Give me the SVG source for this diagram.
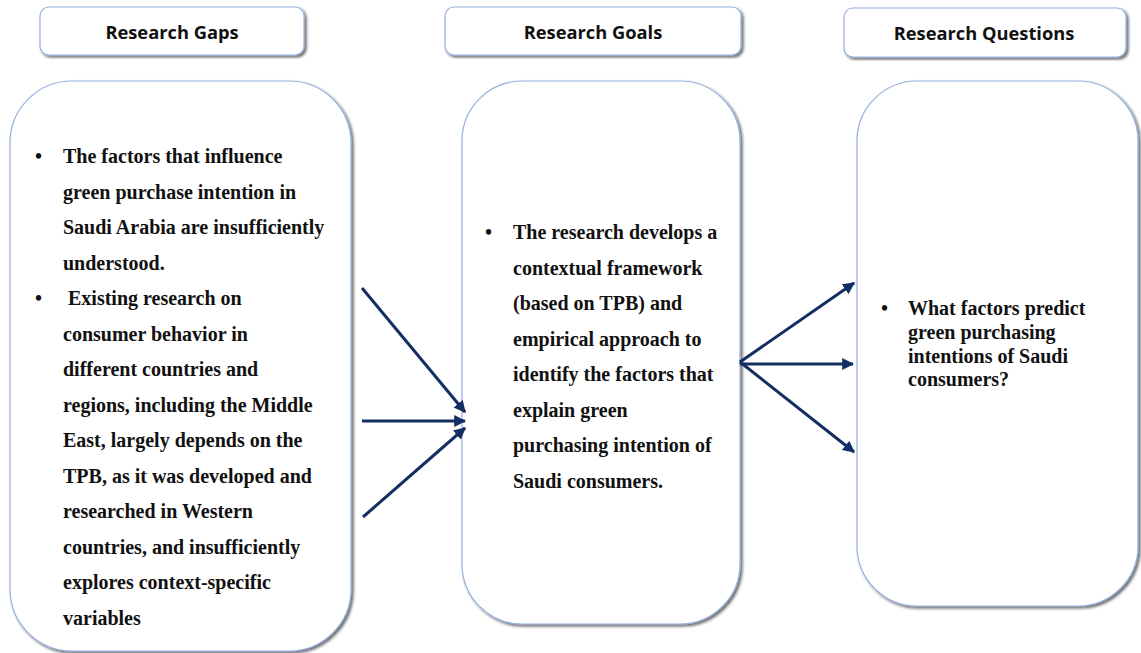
<svg xmlns="http://www.w3.org/2000/svg" width="1141" height="653" viewBox="0 0 1141 653">
  <defs>
    <filter id="shadow" x="-5%" y="-5%" width="112%" height="112%">
      <feGaussianBlur in="SourceAlpha" stdDeviation="1.5"/>
      <feOffset dx="2" dy="2" result="b"/>
      <feComponentTransfer><feFuncA type="linear" slope="0.6"/></feComponentTransfer>
      <feMerge><feMergeNode/><feMergeNode in="SourceGraphic"/></feMerge>
    </filter>
    <marker id="arrow" viewBox="0 0 10 10" refX="9" refY="5" markerWidth="4" markerHeight="4" orient="auto" markerUnits="strokeWidth">
      <path d="M0,0 L10,5 L0,10 Z" fill="#132e63"/>
    </marker>
  </defs>
  <style>
    .box { fill: #ffffff; stroke: #95b0de; stroke-width: 1.2; filter: url(#shadow); }
    .head { font-family: "Open Sans", "Liberation Sans", sans-serif; font-weight: bold; font-size: 18.3px; fill: #111111; text-anchor: middle; }
    .body { font-family: "Liberation Serif", "Times New Roman", serif; font-weight: bold; font-size: 20px; fill: #111111; }
    .conn { stroke: #132e63; stroke-width: 3; fill: none; marker-end: url(#arrow); }
  </style>
  <rect width="1141" height="653" fill="#ffffff"/>

  <!-- column headers -->
  <g id="head-gaps">
    <rect class="box" x="40" y="7" width="264" height="48" rx="9"/>
    <text class="head" x="172" y="39">Research Gaps</text>
  </g>
  <g id="head-goals">
    <rect class="box" x="445" y="7" width="296" height="48" rx="9"/>
    <text class="head" x="593" y="39">Research Goals</text>
  </g>
  <g id="head-questions">
    <rect class="box" x="844" y="8" width="282" height="49" rx="9"/>
    <text class="head" x="984" y="40">Research Questions</text>
  </g>

  <!-- research gaps -->
  <g id="gaps">
    <rect class="box" x="10" y="81" width="341" height="570" rx="62"/>
    <text class="body">
      <tspan x="35" y="163">•</tspan><tspan x="63" y="163">The factors that influence</tspan>
      <tspan x="63" y="198.5">green purchase intention in</tspan>
      <tspan x="63" y="234">Saudi Arabia are insufficiently</tspan>
      <tspan x="63" y="269.5">understood.</tspan>
      <tspan x="35" y="305">•</tspan><tspan x="68" y="305">Existing research on</tspan>
      <tspan x="63" y="340.5">consumer behavior in</tspan>
      <tspan x="63" y="376">different countries and</tspan>
      <tspan x="63" y="411.5">regions, including the Middle</tspan>
      <tspan x="63" y="447">East, largely depends on the</tspan>
      <tspan x="63" y="482.5">TPB, as it was developed and</tspan>
      <tspan x="63" y="518">researched in Western</tspan>
      <tspan x="63" y="553.5">countries, and insufficiently</tspan>
      <tspan x="63" y="589">explores context-specific</tspan>
      <tspan x="63" y="624.5">variables</tspan>
    </text>
  </g>

  <!-- research goals -->
  <g id="goals">
    <rect class="box" x="462" y="81" width="278" height="543" rx="60"/>
    <text class="body">
      <tspan x="485" y="239">•</tspan><tspan x="513" y="239">The research develops a</tspan>
      <tspan x="513" y="274.5">contextual framework</tspan>
      <tspan x="513" y="310">(based on TPB) and</tspan>
      <tspan x="513" y="345.5">empirical approach to</tspan>
      <tspan x="513" y="381">identify the factors that</tspan>
      <tspan x="513" y="416.5">explain green</tspan>
      <tspan x="513" y="452">purchasing intention of</tspan>
      <tspan x="513" y="487.5">Saudi consumers.</tspan>
    </text>
  </g>

  <!-- research questions -->
  <g id="questions">
    <rect class="box" x="857" y="81" width="281" height="525" rx="60"/>
    <text class="body">
      <tspan x="881" y="315">•</tspan><tspan x="908" y="315">What factors predict</tspan>
      <tspan x="908" y="339">green purchasing</tspan>
      <tspan x="908" y="362.5">intentions of Saudi</tspan>
      <tspan x="908" y="386">consumers?</tspan>
    </text>
  </g>

  <!-- connectors -->
  <g id="connectors">
    <line class="conn" x1="362" y1="288" x2="465" y2="412"/>
    <line class="conn" x1="362" y1="421" x2="465" y2="421"/>
    <line class="conn" x1="363" y1="517" x2="465" y2="428"/>
    <line class="conn" x1="740" y1="362" x2="854" y2="283"/>
    <line class="conn" x1="740" y1="364" x2="853" y2="364"/>
    <line class="conn" x1="740" y1="362" x2="854" y2="452"/>
  </g>
</svg>
